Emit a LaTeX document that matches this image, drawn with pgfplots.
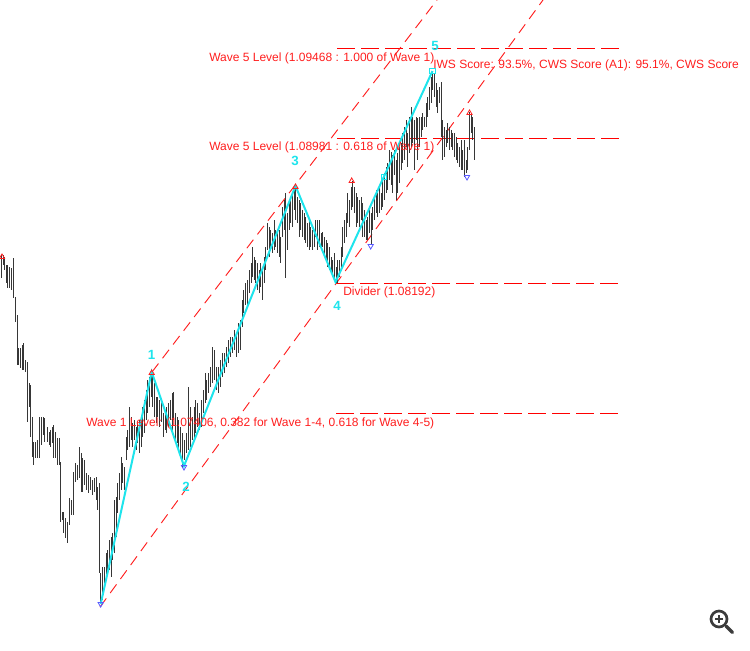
\documentclass[border=0pt]{standalone}
\usepackage{fontspec}
\setmainfont{Liberation Sans}
\usepackage{pgfplots}
\usepackage{pgfplotstable}
\pgfplotsset{compat=1.18}

\definecolor{barc}{RGB}{55,55,55}
\definecolor{lvl}{RGB}{255,30,30}
\definecolor{hline}{RGB}{255,0,0}
\definecolor{wav}{RGB}{30,228,236}
\definecolor{lowc}{RGB}{90,90,255}
\definecolor{icon}{RGB}{60,60,60}

% bars in screen pixels: x, top, bottom
\pgfplotstableread{
x t b
1 255 278
3 255 265
4.5 257 270
6 265 283
7.5 265 288
9 267 288
11 268 290
13 258 298
15 297 322
17 315 365
18.5 348 365
20 348 368
22 345 370
23.5 343 370
25 360 372
27 362 422
29 383 407
30.5 385 437
32 417 457
33.5 442 465
35 442 458
37 440 458
39 417 458
41 417 445
43 417 435
44.5 418 442
47 427 442
49 432 445
50.5 430 447
52 427 443
53.5 425 458
55 432 458
57 438 465
59 438 465
60.5 462 522
62 512 520
63.5 512 533
65 518 538
67 522 543
69 498 525
71 500 515
73 472 515
75 463 482
77 465 480
79 447 478
81 453 492
82.5 458 492
84 460 485
86 473 490
88 475 493
90 477 490
92 480 495
94 478 492
96 477 500
97.7 487 510
99.3 483 573
100.7 573 604
102 567 600
104 567 587
106 553 580
107.7 550 573
109.3 540 570
111 537 577
112.7 533 560
114.3 500 553
116 497 537
117.7 483 513
119.3 473 500
121 457 490
122.7 463 483
124.3 467 490
126 437 460
127.7 430 450
129.3 407 447
131 417 440
132.7 423 447
134.3 420 440
136 427 450
137.7 423 443
139.3 420 453
141 417 447
142.7 407 437
144.3 400 433
146 390 420
147.7 380 413
149.3 377 407
151 372 397
152.7 373 407
154.3 383 417
156 397 423
157.7 397 417
159.3 400 427
161 398 422
163.3 413 437
165 410 430
166.7 407 433
168.3 403 427
170 400 420
172 393 433
173.7 392 420
175.3 413 440
177 417 443
178.7 420 450
180.7 427 457
182.7 433 467
184.7 440 460
186.7 433 453
188 387 450
190 407 447
192 417 440
194 407 440
195.7 400 433
197.3 403 427
199.3 413 430
201.3 400 427
203.3 390 413
205 373 403
206.7 380 400
208.7 373 393
210.7 367 387
212.3 347 383
214 350 380
216 367 390
218 367 393
220 360 387
222 353 377
224 353 373
226 347 367
228 340 363
230 337 357
232 337 353
234 330 350
236 333 357
238 323 353
240 320 350
242 300 327
243.5 290 313
245 283 305
247.3 280 305
249.3 270 293
251 263 283
252.7 247 277
254 257 280
255.7 260 283
257.3 263 290
259 270 293
260.7 263 287
262.3 267 300
264 257 283
265.7 247 270
267.3 223 250
269 227 257
270.7 230 250
272.3 233 253
274 220 250
275.7 230 247
277.3 233 253
279 230 257
280.7 237 263
282.3 207 237
284 200 230
285.7 193 278
287.3 213 250
289 203 230
290.7 200 223
292.3 193 227
294 187 210
295.7 186 220
297.3 197 223
299 200 237
300.7 203 230
302.3 210 237
304 213 240
305.7 217 243
307.3 223 247
309 220 250
310.7 227 247
312.3 230 250
314 230 247
315.7 220 237
317.3 220 250
319 220 247
321 233 250
322.7 232 247
324.3 237 257
326 240 260
327.7 243 267
329.3 247 270
331 257 273
332.7 260 277
334.3 253 280
336 267 283
337.7 260 283
339.3 260 277
341 247 270
342.7 227 257
344.3 220 243
346 213 237
347.7 193 223
349.3 200 227
351 187 210
352.7 181 207
354.3 187 213
356 193 227
357.7 197 223
359.3 200 227
361 197 220
362.7 203 237
364.3 210 237
366 220 240
367.7 217 240
369.3 210 233
371 213 245
372.7 207 230
374.3 197 220
376 190 213
377.7 193 217
379.3 187 213
381 193 210
382.7 180 207
384.3 173 200
386 167 193
387.7 163 190
389.3 150 180
391 152 185
392.7 155 193
394.3 150 175
396 160 200
397.7 153 193
399.3 147 183
401 143 170
402.7 133 163
404.3 127 160
406 120 147
407.7 133 167
409.3 117 153
411 107 147
412.7 117 143
414.3 120 170
416 117 140
417.7 118 160
419.3 117 147
421 117 137
422.7 113 130
424.3 117 127
426 103 127
427.7 97 117
429.3 87 110
431 77 103
432.7 71 90
434.3 73 97
436 83 107
437.7 90 113
439.3 87 103
441 82 137
442.7 120 160
444.3 127 157
446 130 147
447.7 123 143
449.3 127 150
451 130 147
452.7 133 150
454.3 133 157
456 137 160
457.7 143 163
459.3 147 167
461 140 170
462.7 150 170
464.3 140 177
466 160 173
467.7 147 170
469.3 112 150
471 113 133
472.7 117 140
474.3 127 160
}\bars

\begin{document}
\begin{tikzpicture}
\begin{axis}[
    scale only axis,
    width=562.5pt, height=487.5pt,
    xmin=0, xmax=750, ymin=0, ymax=650,
    y dir=reverse,
    hide axis,
    clip=false,
    chan/.style={draw=lvl, color=lvl, line width=0.7pt, dash pattern=on 8pt off 5pt, mark=none},
    lvline/.style={draw=hline, color=hline, line width=0.9pt, dash pattern=on 13.5pt off 4.5pt, mark=none},
]

% level lines
\addplot[lvline] coordinates {(337,48.5) (622,48.5)};
\addplot[lvline] coordinates {(337,138.5) (622,138.5)};
\draw[hline, line width=0.9pt, dash pattern=on 13.5pt off 4.5pt] (axis cs:336,283.5) -- (axis cs:622,283.5);
\draw[hline, line width=0.9pt, dash pattern=on 13.5pt off 4.5pt] (axis cs:336,413.5) -- (axis cs:622,413.5);

% channel lines
\addplot[chan] coordinates {(152,372) (437,0)};
\addplot[chan] coordinates {(100,607) (543,0)};

% price bars
\addplot[draw=none, mark=none,
    error bars/.cd, y dir=plus, y explicit, error mark=none,
    error bar style={draw=barc, solid, line width=0.7pt}]
    table[x=x, y=t, y error expr=\thisrow{b}-\thisrow{t}] {\bars};

% wave path
\addplot[wav, line width=1.5pt, mark=none] coordinates {
    (100.7,604) (151.7,372) (184,466) (295.5,186) (335.5,282) (432.5,71)};
\addplot[wav, only marks, mark=square, mark size=2pt, line width=0.8pt] coordinates {(384,177) (432.5,71)};

% fractal arrows
\addplot[lvl, only marks, mark=triangle, mark size=2.3pt, line width=0.6pt] coordinates {
    (2,257) (151.7,373) (295.5,187) (351.7,181) (469.5,113)};
\addplot[lowc, only marks, mark=triangle, mark size=2.3pt, line width=0.6pt, mark options={rotate=180}] coordinates {
    (100.7,604) (184,467) (370.7,246) (467,177)};

% texts
\begin{scope}[every node/.style={anchor=base west, inner sep=0pt, text=lvl, font=\fontsize{9}{10}\selectfont}]
\node at (axis cs:209,61.7) {Wave 5 Level (1.09468 : 1.000 of Wave 1)};
\node at (axis cs:433,68.3) {IWS Score: 93.5\%, CWS Score (A1): 95.1\%, CWS Score};
\node at (axis cs:209,150.7) {Wave 5 Level (1.08981 : 0.618 of Wave 1)};
\node at (axis cs:343,295.7) {Divider (1.08192)};
\node at (axis cs:86,426) {Wave 1 Level: (1.07406, 0.382 for Wave 1-4, 0.618 for Wave 4-5)};
\end{scope}
\begin{scope}[every node/.style={anchor=base, inner sep=0pt, text=wav, font=\fontsize{10}{11}\selectfont\bfseries}]
\node at (axis cs:151.7,359.5) {1};
\node at (axis cs:186,491.5) {2};
\node at (axis cs:295,165.5) {3};
\node at (axis cs:337,310) {4};
\node at (axis cs:435,50) {5};
\end{scope}

% zoom icon
\draw[icon, line width=2pt] (axis cs:719,619) circle[radius=6pt];
\draw[icon, line width=1.8pt] (axis cs:715,619) -- (axis cs:723,619);
\draw[icon, line width=1.8pt] (axis cs:719,615) -- (axis cs:719,623);
\draw[icon, line width=2.6pt, line cap=round] (axis cs:726,626) -- (axis cs:732.5,632.5);
\end{axis}
\pgfresetboundingbox
\path[use as bounding box] (current axis.south west) rectangle (current axis.north east);
\end{tikzpicture}
\end{document}
